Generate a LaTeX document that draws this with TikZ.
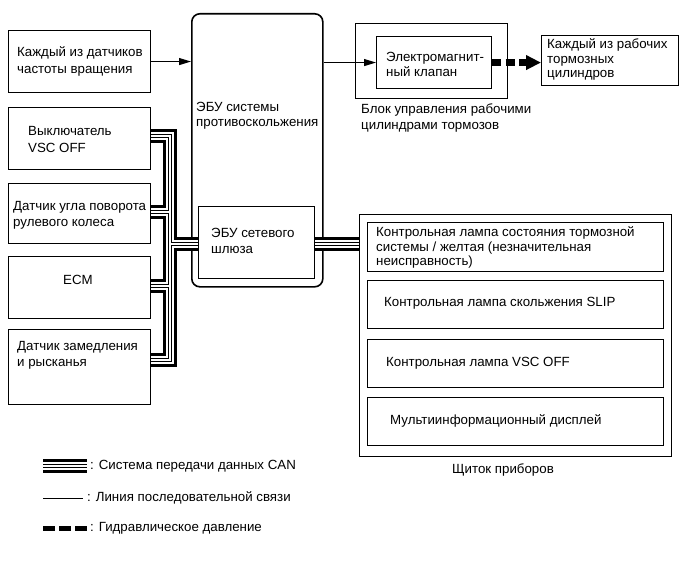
\documentclass[tikz,border=0pt]{standalone}
\usepackage{fontspec}
\setmainfont{Liberation Sans}
\usetikzlibrary{arrows.meta}
\begin{document}
\begin{tikzpicture}[x=1pt,y=-1pt,
  box/.style={draw, line width=1.1pt, inner sep=0pt, anchor=north west},
  bigbox/.style={draw, line width=1.6pt, rounded corners=8pt, inner sep=0pt, anchor=north west},
  txt/.style={font=\fontsize{13.3}{16}\selectfont, align=left, inner sep=0pt, anchor=west},
  sig/.style={line width=1pt, -{Triangle[length=12pt,width=7pt]}},
  hyd/.style={line width=6.5pt, dash pattern=on 9pt off 4.5pt, -{Triangle[length=15pt,width=14pt]}},
  thinline/.style={line width=1pt}]
\useasboundingbox (0,0) rectangle (687,564);

% boxes
\node[box, minimum width=142pt, minimum height=62pt] (spd) at (8,30) {};
\node[bigbox, minimum width=131pt, minimum height=273pt] (ecu) at (191,13) {};
\node[box, minimum width=142pt, minimum height=62pt] (vsc) at (8,107) {};
\node[box, minimum width=142pt, minimum height=60pt] (steer) at (8,183) {};
\node[box, minimum width=142pt, minimum height=62pt] (ecm) at (8,256) {};
\node[box, minimum width=142pt, minimum height=75pt] (decel) at (8,329) {};
\node[box, minimum width=116pt, minimum height=72pt] (gw) at (198,206) {};
\node[box, minimum width=152pt, minimum height=75pt] (vblock) at (355,23) {};
\node[box, minimum width=115pt, minimum height=52pt] (valve) at (376,36) {};
\node[box, minimum width=137pt, minimum height=50pt] (wcyl) at (541,35) {};
\node[box, minimum width=312pt, minimum height=242pt] (panel) at (359,214) {};
\node[box, minimum width=296pt, minimum height=49pt] (p1) at (367,222) {};
\node[box, minimum width=296pt, minimum height=48pt] (p2) at (367,280) {};
\node[box, minimum width=296pt, minimum height=48pt] (p3) at (367,339) {};
\node[box, minimum width=296pt, minimum height=48pt] (p4) at (367,397) {};

% texts
\node[txt, font=\fontsize{13.3}{17}\selectfont] (spdt) at (17,61.5) {Каждый из датчиков\\частоты вращения};
\node[txt, font=\fontsize{13.3}{15.5}\selectfont] (ecut) at (196,115.5) {ЭБУ системы\\противоскольжения};
\node[txt, font=\fontsize{13.3}{17}\selectfont] (vsct) at (28,139.5) {Выключатель\\VSC OFF};
\node[txt] (steert) at (13,215) {Датчик угла поворота\\рулевого колеса};
\node[txt, anchor=center] (ecmt) at (78,280) {ECM};
\node[txt] (decelt) at (17,355) {Датчик замедления\\и рысканья};
\node[txt] (gwt) at (211,241) {ЭБУ сетевого\\шлюза};
\node[txt, font=\fontsize{13.3}{15}\selectfont] (valvet) at (386,64.5) {Электромагнит-\\ный клапан};
\node[txt, font=\fontsize{13.3}{14.5}\selectfont] (wcylt) at (547,59.5) {Каждый из рабочих\\тормозных\\цилиндров};
\node[txt] (vblockt) at (361,118) {Блок управления рабочими\\цилиндрами тормозов};
\node[txt, font=\fontsize{13.3}{14.5}\selectfont] (p1t) at (376,247.5) {Контрольная лампа состояния тормозной\\системы / желтая (незначительная\\неисправность)};
\node[txt] (p2t) at (384,303) {Контрольная лампа скольжения SLIP};
\node[txt] (p3t) at (386,363) {Контрольная лампа VSC OFF};
\node[txt] (p4t) at (390,421) {Мультиинформационный дисплей};
\node[txt, anchor=center] (panelt) at (503,470) {Щиток приборов};

% signal arrows
\draw[sig] (spd.east) -- (spd.east -| ecu.west);
\draw[sig] (valve.west -| ecu.east) -- (valve.west);
\draw[hyd] (valve.east) -- (valve.east -| wcyl.west);

% CAN bus junctions
\coordinate (jt) at (170,136);
\coordinate (jb) at (170,360);
\coordinate (js) at (170,212);
\coordinate (je) at (170,286);
\coordinate (jg) at (170,244);
\coordinate (lc1) at (43,466);
\coordinate (lc2) at (87,466);

\foreach \w/\c in {14/black, 8/white, 3.4/black, 1.2/white} {
  \draw[line width=\w pt, \c, line join=miter] (vsc.east |- jt) -- (jt) -- (jb) -- (decel.east |- jb);
  \draw[line width=\w pt, \c] (steer.east |- js) -- (js);
  \draw[line width=\w pt, \c] (ecm.east |- je) -- (je);
  \draw[line width=\w pt, \c] (jg) -- (jg -| gw.west);
  \draw[line width=\w pt, \c] (jg -| gw.east) -- (jg -| panel.west);
  \draw[line width=\w pt, \c] (lc1) -- (lc2);
}

% legend
\coordinate (ls1) at (43,498);
\coordinate (ls2) at (83,498);
\coordinate (lh1) at (43,528);
\coordinate (lh2) at (87,528);
\draw[thinline] (ls1) -- (ls2);
\draw[line width=5pt, dash pattern=on 12pt off 4pt] (lh1) -- (lh2);
\node[txt] (l1) at (90,466) {: Система передачи данных CAN};
\node[txt] (l2) at (87,498) {: Линия последовательной связи};
\node[txt] (l3) at (90,528) {: Гидравлическое давление};
\end{tikzpicture}
\end{document}
